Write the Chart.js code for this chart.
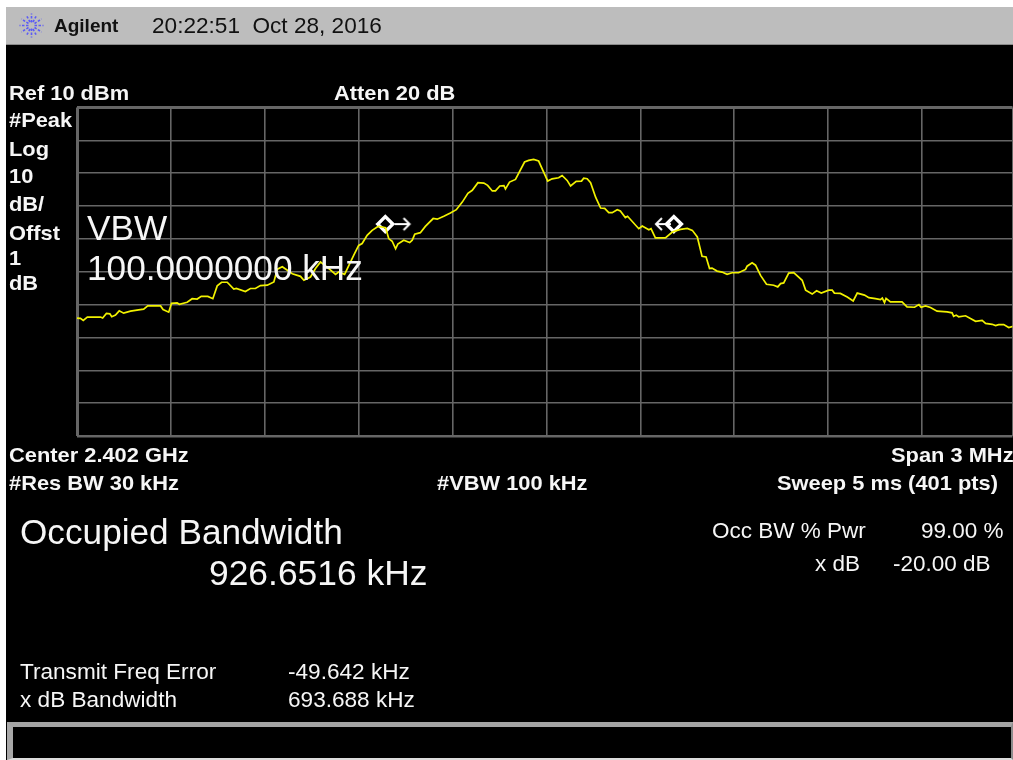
<!DOCTYPE html>
<html><head><meta charset="utf-8">
<script src="https://cdn.jsdelivr.net/npm/chart.js@4"></script>
<style>
html,body{margin:0;padding:0;background:#fff;width:1013px;height:760px;overflow:hidden}
body{position:relative;font-family:"Liberation Sans",Arial,sans-serif}
.box{position:absolute}
#screen{left:6px;top:7px;width:1007px;height:753px;background:#000}
#header{left:6px;top:7px;width:1007px;height:37px;background:#bdbdbd;border-bottom:1px solid #8a8a8a}
#foot{left:7px;top:722px;width:998px;height:31px;background:#000;border-top:5px solid #a4a4a4;border-left:6px solid #a8a8a8;border-right:2px solid #8c8c8c;border-bottom:2px solid #dcdcdc}
canvas{position:absolute;left:0;top:0}
.t{position:absolute;white-space:pre;line-height:0;color:#f6f6f6;transform-origin:left center}
svg{position:absolute;left:19px;top:13px}
</style></head>
<body>
<div class="box" id="screen"></div>
<div class="box" id="header"></div>
<div class="box" id="foot"></div>
<canvas id="c" width="1013" height="760"></canvas>
<svg width="25" height="25" viewBox="-12.5 -12.5 25 25" stroke="#5c5cf5" stroke-width="1.6" stroke-dasharray="2.5 1.5" fill="none">
<path d="M3 0H12M-3 0H-12M0 3V12M0-3V-12M3 2L10 6.5M-3 2L-10 6.5M3-2L10-6.5M-3-2L-10-6.5M1.5 3.5L5 10M-1.5 3.5L-5 10M1.5-3.5L5-10M-1.5-3.5L-5-10"/>
</svg>
<div id="labels"></div>
<script>
const freqKHz = [-1500,-1489,-1480,-1467,-1425,-1418,-1406,-1395,-1389,-1377,-1365,-1351,-1329,-1303,-1287,-1274,-1233,-1225,-1207,-1198,
-1180,-1173,-1148,-1132,-1116,-1103,-1082,-1066,-1052,-1038,-1020,-999,-991,-962,-946,-930,-914,-892,-871,-860,
-844,-812,-786,-775,-754,-738,-722,-696,-674,-664,-645,-616,-600,-589,-573,-557,-541,-536,-514,-504,
-493,-482,-475,-456,-437,-429,-421,-403,-387,-362,-349,-328,-307,-288,-269,-251,-237,-219,-200,-188,
-173,-163,-149,-136,-131,-118,-99,-70,-57,-41,-25,-9,4,18,39,50,66,77,95,112,
119,130,141,157,173,186,199,210,226,236,252,259,295,306,327,334,348,380,402,428,
450,466,482,497,510,521,529,545,561,577,593,614,636,641,657,668,684,703,726,739,
748,758,774,790,817,828,849,863,878,902,913,920,939,961,980,993,1016,1030,1051,1067,
1073,1080,1085,1099,1126,1136,1152,1176,1190,1197,1211,1227,1248,1280,1296,1301,1309,1317,1339,1371,
1392,1403,1424,1435,1445,1461,1477,1491];
const traceDbm = [-54.1,-54.2,-54.8,-53.8,-53.8,-54.1,-52.7,-52.8,-53.7,-53.2,-51.9,-52.6,-52.0,-51.6,-51.4,-50.4,-50.4,-51.5,-52.3,-49.6,
-49.5,-49.9,-49.3,-48.2,-48.3,-47.5,-47.5,-48.2,-44.3,-43.2,-43.2,-45.3,-45.1,-46.0,-45.1,-45.1,-44.2,-44.1,-43.1,-39.2,
-38.5,-40.6,-41.4,-42.6,-41.6,-39.0,-37.0,-39.0,-40.8,-40.1,-40.8,-35.0,-32.0,-31.4,-28.9,-27.4,-26.4,-26.2,-26.6,-29.9,
-30.7,-33.0,-31.6,-30.4,-31.1,-30.4,-28.6,-28.1,-26.2,-23.8,-24.0,-23.1,-22.1,-21.1,-18.8,-16.1,-15.2,-12.9,-13.0,-13.7,
-15.4,-15.4,-13.9,-13.8,-14.8,-12.7,-11.9,-6.6,-6.1,-5.8,-6.3,-9.7,-12.4,-11.7,-11.4,-10.7,-12.2,-13.9,-12.5,-12.4,
-11.5,-11.7,-12.9,-17.3,-20.6,-20.7,-22.0,-22.0,-21.1,-21.5,-23.5,-23.1,-26.9,-26.1,-27.2,-26.9,-29.7,-29.7,-27.9,-27.1,
-26.8,-27.4,-29.4,-35.3,-35.5,-39.0,-38.9,-39.8,-40.1,-40.8,-40.3,-40.3,-39.3,-38.3,-37.3,-38.0,-41.1,-43.8,-44.1,-44.6,
-43.6,-43.4,-40.4,-40.3,-42.6,-45.6,-46.8,-45.8,-46.5,-45.6,-45.6,-46.5,-46.6,-47.7,-48.9,-46.5,-47.1,-47.9,-48.2,-48.5,
-48.0,-49.4,-48.1,-49.2,-49.2,-49.2,-50.7,-50.8,-50.0,-50.8,-50.4,-50.9,-52.0,-52.2,-52.5,-53.6,-53.2,-53.7,-53.4,-55.1,
-54.8,-55.7,-56.0,-56.4,-56.1,-56.1,-57.0,-56.6];
const markerKHz = [-515, 407];
const markerDbm = [-25.5, -25.5];
const arrowRightKHz = [-460];
const arrowLeftKHz = [372];
const arrowDbm = [-25.5];
const xTickKHz = [-1500,-1200,-900,-600,-300,0,300,600,900,1200,1489];

const toPts = (xs, ys) => xs.map((x, i) => ({x, y: ys[i % ys.length]}));

function arrowImage(dir){
  const cv = document.createElement('canvas'); cv.width = 18; cv.height = 16;
  const g = cv.getContext('2d'); g.strokeStyle = '#fff'; g.lineWidth = 2;
  g.translate(9, 8); g.scale(dir, 1);
  g.beginPath(); g.moveTo(-8, 0); g.lineTo(7, 0); g.moveTo(1, -6); g.lineTo(7, 0); g.lineTo(1, 6); g.stroke();
  return cv;
}

new Chart(document.getElementById('c'), {
  type: 'scatter',
  data: { datasets: [
    { label: 'Trace', data: toPts(freqKHz, traceDbm), showLine: true, borderColor: '#f2f200', borderWidth: 1.7,
      pointRadius: 0, tension: 0 },
    { label: 'Right arrow', data: toPts(arrowRightKHz, arrowDbm), pointStyle: arrowImage(1), pointRadius: 8 },
    { label: 'Left arrow', data: toPts(arrowLeftKHz, arrowDbm), pointStyle: arrowImage(-1), pointRadius: 8 },
    { label: 'Occupied BW markers', data: toPts(markerKHz, markerDbm), pointStyle: 'rectRot', pointRadius: 7.5,
      pointBorderWidth: 3.5, pointBorderColor: '#fff', pointBackgroundColor: '#000' }
  ]},
  options: {
    responsive: false, animation: false, events: [],
    layout: { autoPadding: false, padding: { left: 77, top: 107.5, right: 0.5, bottom: 324 } },
    plugins: { legend: { display: false }, tooltip: { enabled: false }, title: { display: false } },
    scales: {
      x: { type: 'linear', min: -1500, max: 1489,
        afterBuildTicks: a => { a.ticks = xTickKHz.map(value => ({value})); },
        ticks: { display: false, autoSkip: false },
        border: { display: false },
        grid: { color: '#666', drawTicks: false,
          lineWidth: c => (c.index === 0 ? 3 : 1.6) } },
      y: { type: 'linear', min: -90, max: 10,
        ticks: { display: false, stepSize: 10 },
        border: { display: false },
        grid: { color: '#666', drawTicks: false,
          lineWidth: c => (c.tick && (c.tick.value === 10) ? 3 : c.tick && c.tick.value === -90 ? 2.4 : 1.6) } }
    }
  }
});

const labels = [
  ['Agilent',54,33,19,700,1,'#111'],
  ['20:22:51  Oct 28, 2016',152,34,22.6,400,1,'#111'],
  ['Ref 10 dBm',9,100,21,700,1.04],
  ['Atten 20 dB',334,100,21,700,1.04],
  ['#Peak',9,127,21,700,1.04],
  ['Log',9,156,21,700,1.04],
  ['10',9,183,21,700,1.04],
  ['dB/',9,211,21,700,1.04],
  ['Offst',9,240,21,700,1.04],
  ['1',9,265,21,700,1.04],
  ['dB',9,290,21,700,1.04],
  ['VBW',87,240,35.2,400,1],
  ['100.0000000 kHz',87,280,35.2,400,1],
  ['Center 2.402 GHz',9,462,21,700,1.04],
  ['Span 3 MHz',891,462,21,700,1.04],
  ['#Res BW 30 kHz',9,490,21,700,1.04],
  ['#VBW 100 kHz',437,490,21,700,1.04],
  ['Sweep 5 ms (401 pts)',777,490,21,700,1.04],
  ['Occupied Bandwidth',20,544,35.2,400,1],
  ['926.6516 kHz',209,585,35.4,400,1],
  ['Occ BW % Pwr',712,539,22.5,400,1],
  ['99.00 %',921,539,22.5,400,1],
  ['x dB',815,572,22.5,400,1],
  ['-20.00 dB',893,572,22.5,400,1],
  ['Transmit Freq Error',20,680,22.6,400,1],
  ['-49.642 kHz',288,680,22.6,400,1],
  ['x dB Bandwidth',20,708,22.6,400,1],
  ['693.688 kHz',288,708,22.6,400,1]
];
const host = document.getElementById('labels');
labels.forEach(([text,x,base,size,weight,sx,color]) => {
  const d = document.createElement('div');
  d.className = 't'; d.textContent = text;
  d.style.left = x + 'px';
  d.style.top = (base - 0.3465 * size) + 'px';
  d.style.fontSize = size + 'px';
  d.style.fontWeight = weight;
  if (sx !== 1) d.style.transform = 'scaleX(' + sx + ')';
  if (color) d.style.color = color;
  host.appendChild(d);
});
</script>
</body></html>
